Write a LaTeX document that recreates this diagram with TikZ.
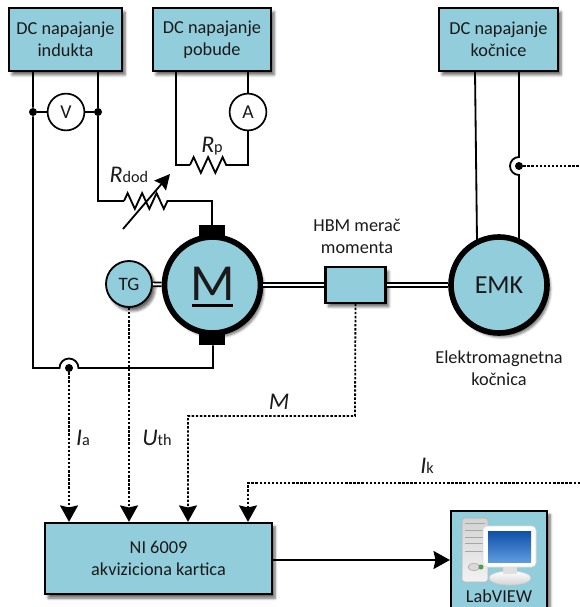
\documentclass[tikz,border=0pt]{standalone}
\usepackage{fontspec}
\setmainfont{Carlito}
\usetikzlibrary{arrows.meta,decorations.pathmorphing,shadows,shadows.blur}
\definecolor{boxfill}{HTML}{92CDDC}
\definecolor{inkcol}{HTML}{1A1A1A}
\definecolor{scrtop}{HTML}{0F4FA8}
\definecolor{scrmid}{HTML}{1B62C0}
\definecolor{scrbot}{HTML}{5E9BE0}
\newcommand{\boxsize}{\fontsize{13}{15.6}\selectfont}
\newcommand{\lbl}[2]{{\fontsize{17}{19}\selectfont\textit{#1}}{\fontsize{11.5}{13}\selectfont #2}}
\tikzset{
  softshadow/.style={blur shadow={shadow xshift=2.2pt,shadow yshift=-2.8pt,shadow blur steps=6,shadow opacity=60}},
  blockbox/.style={draw=black,fill=boxfill,line width=1.5pt,align=center,inner sep=0pt,text=inkcol,font=\boxsize,softshadow},
  wheel/.style={draw=black,fill=boxfill,circle,inner sep=0pt,text=inkcol,softshadow},
  meter/.style={draw=black,fill=white,circle,line width=1.2pt,minimum size=0.92cm,inner sep=0pt,text=inkcol,font=\fontsize{14}{15}\selectfont},
  brush/.style={fill=black,minimum width=0.65cm,minimum height=0.35cm,inner sep=0pt},
  dotjoin/.style={fill=black,circle,minimum size=0.2cm,inner sep=0pt},
  wire/.style={line width=1.3pt,line join=miter},
  shaft/.style={line width=1.2pt,double=white,double distance=1.5pt},
  signal/.style={line width=1.3pt,dash pattern=on 1.7pt off 1.2pt},
  tip/.style={-{Stealth[length=0.41cm,width=0.45cm,inset=0.05cm]}},
  rzig/.style={wire,decorate,decoration={zigzag,segment length=10.3pt,amplitude=5.6pt}},
  caption/.style={align=center,inner sep=0pt,text=inkcol,font=\boxsize}
}
\begin{document}
\begin{tikzpicture}[x=0.025cm,y=-0.025cm]
\useasboundingbox (0,0) rectangle (580,607);
\clip (0,0) rectangle (580,607);
% supplies
\node[blockbox, minimum width=2.82cm, minimum height=1.57cm] (a) at (65.5,39.5) {DC napajanje\\indukta};
\node[blockbox, minimum width=2.95cm, minimum height=1.57cm] (b) at (212,39.5) {DC napajanje\\pobude};
\node[blockbox, minimum width=2.97cm, minimum height=1.57cm] (c) at (498.5,39.5) {DC napajanje\\kočnice};
% meters
\node[meter] (v) at (66,112) {V};
\node[meter] (am) at (248,112) {A};
\node[dotjoin] (j1) at (33,112) {};
\node[dotjoin] (j2) at (98,112) {};
% machines
\node[wheel, line width=4pt, minimum size=2.4cm] (m) at (212.5,285) {};
\node[brush] (bt) at (212,232) {};
\node[brush] (bb) at (212,338) {};
\node[inkcol, inner sep=0pt, font=\fontsize{37}{37}\selectfont] (mm) at (212.5,284) {M};
\node[wheel, line width=1.3pt, minimum size=1.15cm, font=\fontsize{13.5}{14}\selectfont] (tg) at (129,284) {TG};
\node[blockbox, minimum width=1.5cm, minimum height=0.88cm] (h) at (355.5,285) {};
\node[wheel, line width=4pt, minimum size=2.4cm, font=\fontsize{18.5}{19}\selectfont] (e) at (499,285) {EMK};
\coordinate (u1) at (192,305.5);
\coordinate (u2) at (233,305.5);
\draw[line width=2.2pt] (u1) -- (u2);
% daq and pc
\node[blockbox, minimum width=5.67cm, minimum height=1.78cm] (n) at (158.5,558.5) {NI 6009\\akviziciona kartica};
\node[blockbox, minimum width=2.4cm, minimum height=2.45cm] (l) at (499,560) {};
% tower and monitor of the pc
\shade[top color=gray!35, bottom color=gray!10, draw=gray!60, rounded corners=2pt] (462,518) rectangle (488,582);
\draw[gray!70] (465,523) -- (485,523) (465,530) -- (485,530) (465,537) -- (485,537) (465,543) -- (485,543) (465,551) -- (483,551);
\draw[gray!70, fill=gray!30] (474,567) ellipse (6 and 3.5);
\fill[green!45!black!70] (481,567) circle (2.5);
\shade[top color=white, bottom color=gray!35, draw=gray!40] (510,578) ellipse (21 and 7);
\fill[gray!25] (503,566) rectangle (517,574);
\fill[white, rounded corners=3pt] (483,526) rectangle (536,567);
\draw[gray!30, rounded corners=3pt] (483,526) rectangle (536,567);
\shade[top color=scrtop, middle color=scrmid, bottom color=scrbot] (488,531) rectangle (531,562);
\node[inkcol, inner sep=0pt, font=\boxsize] (lv) at (499,596) {LabVIEW};
% wires of the armature
\coordinate (p1) at (33,368);
\coordinate (p2) at (213,368);
\node[dotjoin] (s1) at (69,368) {};
\draw[wire] (a.south -| j1) -- (j1) -- (p1) -- (59.5,368) arc[start angle=180,end angle=360,radius=9.5] -- (p2) -- (bb.south -| p2);
\draw[wire] (a.south -| j2) -- (j2) |- (112,201) coordinate (r1);
\coordinate (r2) at (124,201);
\coordinate (r3) at (168,201);
\coordinate (r4) at (212,201);
\draw[wire] (r1) -- (r2);
\draw[rzig] (r2) -- (r3);
\draw[wire] (r3) -- (r4) -- (bt.north -| r4);
\draw[wire] (j1) -- (v);
\draw[wire] (v) -- (j2);
\coordinate (k1) at (123,229);
\coordinate (k2) at (170,174);
\draw[wire, -{Stealth[length=0.38cm,width=0.38cm,inset=0.05cm]}] (k1) -- (k2);
% wires of the field
\coordinate (f1) at (176,165);
\coordinate (f2) at (190,165);
\coordinate (f3) at (233,165);
\coordinate (f4) at (248,165);
\draw[wire] (b.south -| f1) -- (f1) -- (f2);
\draw[rzig] (f2) -- (f3);
\draw[wire] (f3) -- (f4) -- (am);
\draw[wire] (b.south -| am) -- (am);
% wires of the brake
\coordinate (g1) at (475,71);
\coordinate (g2) at (477,240);
\coordinate (g3) at (519,71);
\coordinate (g4) at (519,157);
\coordinate (g6) at (519,240);
\node[dotjoin] (s2) at (519,166) {};
\draw[wire] (g1) -- (g2);
\draw[wire] (g3) -- (g4) arc[start angle=270,end angle=90,radius=9] -- (g6);
% shafts
\draw[shaft] (tg) -- (m);
\draw[shaft] (m) -- (h);
\draw[shaft] (h) -- (e);
% signals
\coordinate (o1) at (580,166);
\coordinate (q1) at (355,416);
\coordinate (q2) at (188,416);
\coordinate (q3) at (580,483);
\coordinate (q4) at (248,483);
\draw[signal] (s2) -- (o1);
\draw[signal, tip] (s1) -- (n.north -| s1);
\draw[signal, tip] (tg) -- (n.north -| tg);
\draw[signal, tip] (h.south) -- (q1) -- (q2) -- (n.north -| q2);
\draw[signal, tip] (q3) -- (q4) -- (n.north -| q4);
\draw[wire, tip] (n.east |- l.west) -- (l.west);
% labels
\node[caption] (t1) at (357,236) {HBM merač\\momenta};
\node[caption] (t2) at (499,368) {Elektromagnetna\\kočnica};
\node[inner sep=0pt, text=inkcol] (t3) at (129,175) {\lbl{R}{dod}};
\node[inner sep=0pt, text=inkcol] (t4) at (212,146) {\lbl{R}{p}};
\node[inner sep=0pt, text=inkcol] (t5) at (83,438) {\lbl{I}{a}};
\node[inner sep=0pt, text=inkcol] (t6) at (157,438) {\lbl{U}{th}};
\node[inner sep=0pt, text=inkcol] (t7) at (279,402) {\lbl{M}{}};
\node[inner sep=0pt, text=inkcol] (t8) at (427,466) {\lbl{I}{k}};
\end{tikzpicture}
\end{document}
